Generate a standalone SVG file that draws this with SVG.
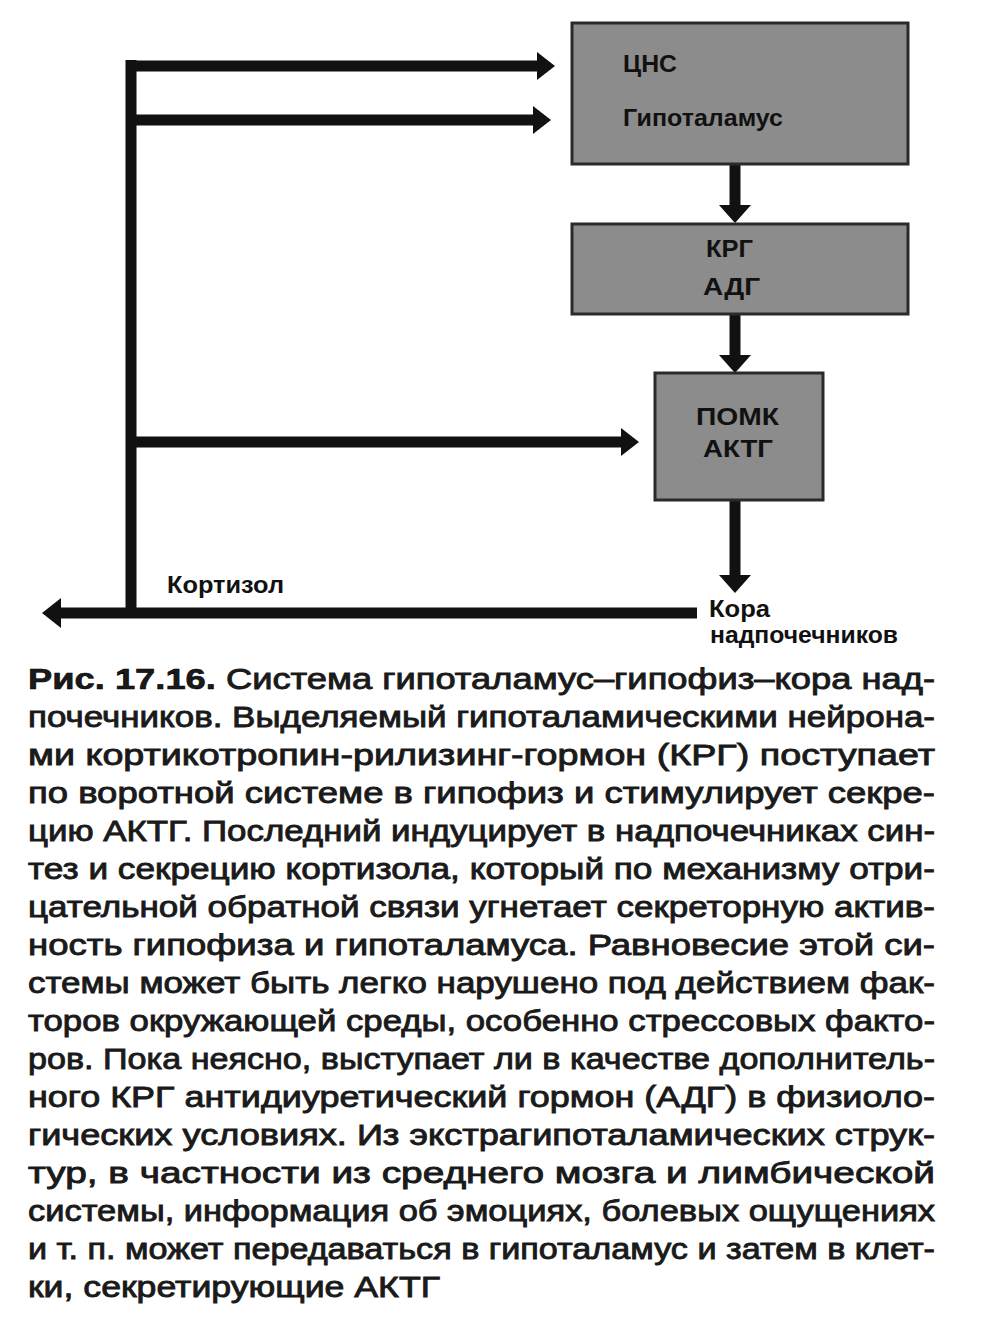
<svg xmlns="http://www.w3.org/2000/svg" width="1000" height="1318" viewBox="0 0 1000 1318">
<style>
.box{fill:#8c8c8c;stroke:#2a2a2a;stroke-width:3}
.lbl{font-family:"Liberation Sans",Arial,sans-serif;font-weight:700;font-size:23px;fill:#111}
.cap{font-family:"Liberation Sans",Arial,sans-serif;font-weight:400;font-size:30px;fill:#1a1a1a;stroke:#1a1a1a;stroke-width:0.9}
.fig{font-weight:700;stroke:#000;stroke-width:0.6}
.ln{stroke:#111;stroke-width:11;fill:none}
.hd{fill:#111}
</style>
<rect width="1000" height="1318" fill="#ffffff"/>
<g id="connectors">
<line class="ln" x1="131" y1="60" x2="131" y2="613"/>
<line class="ln" x1="126" y1="66" x2="540" y2="66"/>
<polygon class="hd" points="537,52 555,66 537,80"/>
<line class="ln" x1="131" y1="120" x2="536" y2="120"/>
<polygon class="hd" points="533,106 551,120 533,134"/>
<line class="ln" x1="131" y1="442" x2="624" y2="442"/>
<polygon class="hd" points="621,428 639,442 621,456"/>
<line class="ln" x1="697" y1="613" x2="58" y2="613"/>
<polygon class="hd" points="61,598 42,613 61,628"/>
<line class="ln" x1="735" y1="165" x2="735" y2="208"/>
<polygon class="hd" points="719,205 735,223 751,205"/>
<line class="ln" x1="735" y1="315" x2="735" y2="358"/>
<polygon class="hd" points="719,355 735,373 751,355"/>
<line class="ln" x1="735" y1="500" x2="735" y2="578"/>
<polygon class="hd" points="719,575 735,593 751,575"/>
</g>
<g id="node-cns">
<rect class="box" x="572" y="23" width="336" height="141"/>
<text class="lbl" x="623" y="72" textLength="54" lengthAdjust="spacingAndGlyphs">ЦНС</text>
<text class="lbl" x="623" y="126" textLength="160" lengthAdjust="spacingAndGlyphs">Гипоталамус</text>
</g>
<g id="node-krg">
<rect class="box" x="572" y="224" width="336" height="90"/>
<text class="lbl" x="706" y="257" textLength="47" lengthAdjust="spacingAndGlyphs">КРГ</text>
<text class="lbl" x="703" y="295" textLength="57" lengthAdjust="spacingAndGlyphs">АДГ</text>
</g>
<g id="node-pomk">
<rect class="box" x="655" y="373" width="168" height="127"/>
<text class="lbl" x="696" y="425" textLength="83" lengthAdjust="spacingAndGlyphs">ПОМК</text>
<text class="lbl" x="703" y="457" textLength="70" lengthAdjust="spacingAndGlyphs">АКТГ</text>
</g>
<g id="label-cortisol">
<text class="lbl" x="167" y="593" textLength="117" lengthAdjust="spacingAndGlyphs">Кортизол</text>
</g>
<g id="node-adrenal">
<text class="lbl" x="709" y="617" textLength="61" lengthAdjust="spacingAndGlyphs">Кора</text>
<text class="lbl" x="710" y="643" textLength="188" lengthAdjust="spacingAndGlyphs">надпочечников</text>
</g>
<g id="caption">
<text class="cap" x="28" y="689" textLength="907" lengthAdjust="spacingAndGlyphs"><tspan class="fig">Рис. 17.16.</tspan> Система гипоталамус–гипофиз–кора над-</text>
<text class="cap" x="28" y="727" textLength="907" lengthAdjust="spacingAndGlyphs">почечников. Выделяемый гипоталамическими нейрона-</text>
<text class="cap" x="28" y="765" textLength="907" lengthAdjust="spacingAndGlyphs">ми  кортикотропин-рилизинг-гормон  (КРГ)  поступает</text>
<text class="cap" x="28" y="803" textLength="907" lengthAdjust="spacingAndGlyphs">по воротной системе в гипофиз и стимулирует секре-</text>
<text class="cap" x="28" y="841" textLength="907" lengthAdjust="spacingAndGlyphs">цию АКТГ. Последний индуцирует в надпочечниках син-</text>
<text class="cap" x="28" y="879" textLength="907" lengthAdjust="spacingAndGlyphs">тез и секрецию кортизола, который по механизму отри-</text>
<text class="cap" x="28" y="917" textLength="907" lengthAdjust="spacingAndGlyphs">цательной обратной связи угнетает секреторную актив-</text>
<text class="cap" x="28" y="955" textLength="907" lengthAdjust="spacingAndGlyphs">ность  гипофиза  и  гипоталамуса.  Равновесие  этой  си-</text>
<text class="cap" x="28" y="993" textLength="907" lengthAdjust="spacingAndGlyphs">стемы может быть легко нарушено под действием фак-</text>
<text class="cap" x="28" y="1031" textLength="907" lengthAdjust="spacingAndGlyphs">торов окружающей среды, особенно стрессовых факто-</text>
<text class="cap" x="28" y="1069" textLength="907" lengthAdjust="spacingAndGlyphs">ров. Пока неясно, выступает ли в качестве дополнитель-</text>
<text class="cap" x="28" y="1107" textLength="907" lengthAdjust="spacingAndGlyphs">ного КРГ антидиуретический гормон (АДГ) в физиоло-</text>
<text class="cap" x="28" y="1145" textLength="907" lengthAdjust="spacingAndGlyphs">гических  условиях.  Из  экстрагипоталамических  струк-</text>
<text class="cap" x="28" y="1183" textLength="907" lengthAdjust="spacingAndGlyphs">тур,  в  частности  из  среднего  мозга  и  лимбической</text>
<text class="cap" x="28" y="1221" textLength="907" lengthAdjust="spacingAndGlyphs">системы, информация об эмоциях, болевых ощущениях</text>
<text class="cap" x="28" y="1259" textLength="907" lengthAdjust="spacingAndGlyphs">и т. п. может передаваться в гипоталамус и затем в клет-</text>
<text class="cap" x="28" y="1297" textLength="412" lengthAdjust="spacingAndGlyphs">ки, секретирующие АКТГ</text>
</g>
</svg>
